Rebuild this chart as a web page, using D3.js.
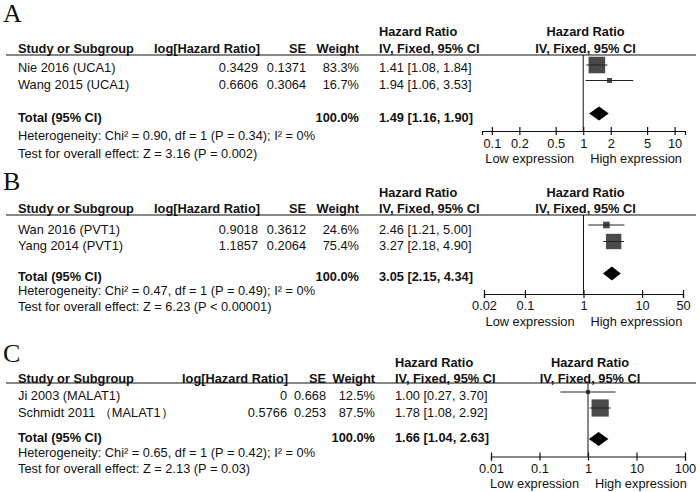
<!DOCTYPE html>
<html><head><meta charset="utf-8">
<script src="https://cdn.jsdelivr.net/npm/d3@7"></script>
<style>
body{margin:0;background:#fff}
svg{display:block}
text{font-family:Arial,"Liberation Sans",sans-serif;fill:#111}
</style>
</head><body>
<svg id="chart" width="700" height="492"></svg>
<script>
// ---------- DATA ----------
const panelLabels = ["A", "B", "C"];
const colHeaders = ["Study or Subgroup", "log[Hazard Ratio]", "SE", "Weight", "IV, Fixed, 95% CI"];
const topHeader = "Hazard Ratio";
const totalLabel = "Total (95% CI)";
const lowLabel = "Low expression";
const highLabel = "High expression";

const studiesA = ["Nie 2016 (UCA1)", "Wang 2015 (UCA1)"];
const logHRA = [0.3429, 0.6606];
const seA = [0.1371, 0.3064];
const weightA = [83.3, 16.7];
const hrA = [1.41, 1.94];
const lowerA = [1.08, 1.06];
const upperA = [1.84, 3.53];
const totalA = [1.49, 1.16, 1.90];
const hetA = "Heterogeneity: Chi² = 0.90, df = 1 (P = 0.34); I² = 0%";
const testA = "Test for overall effect: Z = 3.16 (P = 0.002)";
const ticksA = [0.1, 0.2, 0.5, 1, 2, 5, 10];
const axisExtentA = [0.078, 13];

const studiesB = ["Wan 2016 (PVT1)", "Yang 2014 (PVT1)"];
const logHRB = [0.9018, 1.1857];
const seB = [0.3612, 0.2064];
const weightB = [24.6, 75.4];
const hrB = [2.46, 3.27];
const lowerB = [1.21, 2.18];
const upperB = [5.00, 4.90];
const totalB = [3.05, 2.15, 4.34];
const hetB = "Heterogeneity: Chi² = 0.47, df = 1 (P = 0.49); I² = 0%";
const testB = "Test for overall effect: Z = 6.23 (P < 0.00001)";
const ticksB = [0.02, 0.1, 1, 10, 50];
const axisExtentB = [0.02, 50];

const studiesC = ["Ji 2003 (MALAT1)", "Schmidt 2011 （MALAT1）"];
const logHRC = [0, 0.5766];
const seC = [0.668, 0.253];
const weightC = [12.5, 87.5];
const hrC = [1.00, 1.78];
const lowerC = [0.27, 1.08];
const upperC = [3.70, 2.92];
const totalC = [1.66, 1.04, 2.63];
const hetC = "Heterogeneity: Chi² = 0.65, df = 1 (P = 0.42); I² = 0%";
const testC = "Test for overall effect: Z = 2.13 (P = 0.03)";
const ticksC = [0.01, 0.1, 1, 10, 100];
const axisExtentC = [0.01, 100];

// ---------- LAYOUT ----------
const panels = [
  {label: panelLabels[0], studies: studiesA, logHR: logHRA, se: seA, weight: weightA, hr: hrA, lo: lowerA, hi: upperA, total: totalA, het: hetA, test: testA, ticks: ticksA, ext: axisExtentA,
   L: {letterY: 22, h1: 31, h2: 48.5, rule: 55, rows: [67.5, 84], marks: [65, 80.5], total: 117, totalMark: 113.5, het: 135, test: 153, axisY: 131, tickY: 143.5, lhY: 158.5,
       study: 18, logH: 260, logV: 258, se: 306, w: 359, hr: 379, range: [482, 685]}},
  {label: panelLabels[1], studies: studiesB, logHR: logHRB, se: seB, weight: weightB, hr: hrB, lo: lowerB, hi: upperB, total: totalB, het: hetB, test: testB, ticks: ticksB, ext: axisExtentB,
   L: {letterY: 190, h1: 192, h2: 208.5, rule: 215, rows: [229, 245.5], marks: [225, 241.5], total: 276, totalMark: 273.5, het: 290, test: 306, axisY: 294, tickY: 305.5, lhY: 321,
       study: 18, logH: 260, logV: 258, se: 306, w: 359, hr: 379, range: [484, 683]}},
  {label: panelLabels[2], studies: studiesC, logHR: logHRC, se: seC, weight: weightC, hr: hrC, lo: lowerC, hi: upperC, total: totalC, het: hetC, test: testC, ticks: ticksC, ext: axisExtentC,
   L: {letterY: 362, h1: 362, h2: 378, rule: 383, rows: [395, 412], marks: [392, 408], total: 437.5, totalMark: 439, het: 452.5, test: 468.5, axisY: 456.5, tickY: 468.5, lhY: 483.5,
       study: 18, logH: 288, logV: 287, se: 326, w: 375, hr: 395, range: [491, 685]}}
];

const FS = 12.8;
const svg = d3.select("#chart");
const sizeScale = d3.scalePow().exponent(0.75).domain([0, 100]).range([0, 19]);
const fmt2 = d3.format(".2f");
const fmtW = w => d3.format(".1f")(w) + "%";

function txt(g, x, y, s, anchor, bold) {
  return g.append("text").attr("x", x).attr("y", y).attr("dominant-baseline", "central")
    .attr("text-anchor", anchor || "start").attr("font-size", FS)
    .attr("font-weight", bold ? "bold" : "normal").text(s);
}

panels.forEach(p => {
  const L = p.L;
  const g = svg.append("g");
  // panel letter
  g.append("text").attr("x", 3).attr("y", L.letterY)
    .style("font-family", "'Liberation Serif','Times New Roman',serif").attr("font-size", 26).text(p.label);

  const x = d3.scaleLog().domain(p.ext).range(L.range);
  const plotMid = (L.range[0] + L.range[1]) / 2 + 2;

  // headers
  txt(g, L.hr, L.h1, topHeader, "start", true);
  txt(g, plotMid, L.h1, topHeader, "middle", true);
  txt(g, L.study, L.h2, colHeaders[0], "start", true);
  txt(g, L.logH, L.h2, colHeaders[1], "end", true);
  txt(g, L.se, L.h2, colHeaders[2], "end", true);
  txt(g, L.w, L.h2, colHeaders[3], "end", true);
  txt(g, L.hr, L.h2, colHeaders[4], "start", true);
  txt(g, plotMid, L.h2, colHeaders[4], "middle", true);
  g.append("line").attr("x1", 6).attr("x2", 696).attr("y1", L.rule).attr("y2", L.rule)
    .attr("stroke", "#111").attr("stroke-width", 1.2);

  // study rows
  p.studies.forEach((s, i) => {
    const y = L.rows[i];
    txt(g, L.study, y, s);
    txt(g, L.logV, y, String(p.logHR[i]), "end");
    txt(g, L.se, y, String(p.se[i]), "end");
    txt(g, L.w, y, fmtW(p.weight[i]), "end");
    txt(g, L.hr, y, `${fmt2(p.hr[i])} [${fmt2(p.lo[i])}, ${fmt2(p.hi[i])}]`);
    const my = L.marks[i];
    const sz = sizeScale(p.weight[i]);
    g.append("rect").attr("x", x(p.hr[i]) - sz / 2).attr("y", my - sz / 2)
      .attr("width", sz).attr("height", sz).attr("fill", "#4a4a4a");
    g.append("line").attr("x1", x(p.lo[i])).attr("x2", x(p.hi[i])).attr("y1", my).attr("y2", my)
      .attr("stroke", "#222").attr("stroke-width", 1);
  });

  // total row
  txt(g, L.study, L.total, totalLabel, "start", true);
  txt(g, L.w, L.total, fmtW(d3.sum(p.weight)), "end", true);
  txt(g, L.hr, L.total, `${fmt2(p.total[0])} [${fmt2(p.total[1])}, ${fmt2(p.total[2])}]`, "start", true);
  const ty = L.totalMark;
  g.append("path").attr("d", d3.line()([
      [x(p.total[1]), ty], [x(p.total[0]), ty - 7], [x(p.total[2]), ty], [x(p.total[0]), ty + 7]]) + "Z")
    .attr("fill", "#000");

  txt(g, L.study, L.het, p.het);
  txt(g, L.study, L.test, p.test);

  // null line
  g.append("line").attr("x1", x(1)).attr("x2", x(1)).attr("y1", L.rule).attr("y2", L.axisY)
    .attr("stroke", "#111").attr("stroke-width", 1);

  // axis
  const ax = g.append("g").attr("transform", `translate(0,${L.axisY})`)
    .call(d3.axisBottom(x).tickValues(p.ticks).tickSizeOuter(0).tickSize(4).tickFormat(d => String(d)));
  ax.select(".domain").attr("stroke", "#111").attr("stroke-width", 1.2);
  ax.selectAll(".tick line").attr("y1", -4).attr("y2", 4).attr("stroke", "#111").attr("stroke-width", 1.2);
  ax.selectAll(".tick text").attr("y", L.tickY - L.axisY).attr("dy", null)
    .attr("dominant-baseline", "central").attr("font-size", FS)
    .style("font-family", "Arial,'Liberation Sans',sans-serif").attr("fill", "#111");

  txt(g, x(1) - 9, L.lhY, lowLabel, "end");
  txt(g, x(1) + 7, L.lhY, highLabel, "start");
});
</script>
</body></html>
